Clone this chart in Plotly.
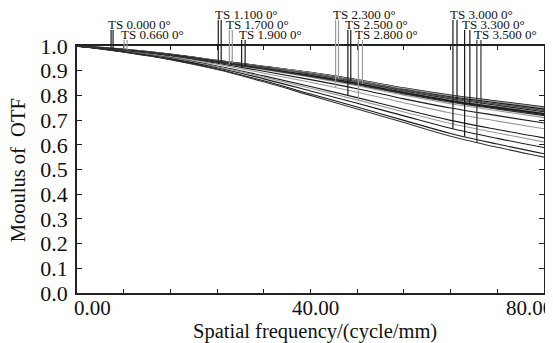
import numpy as np
import plotly.graph_objects as go

# ---------------- data ----------------
freq = [0, 8, 16, 24, 32, 40, 48, 56, 64, 72, 80]
field_labels = ["0.000", "0.660", "1.100", "1.700", "1.900", "2.300",
                "2.500", "2.800", "3.000", "3.300", "3.500"]

diffraction = [1.000, 0.985, 0.965, 0.940, 0.915, 0.890, 0.860, 0.825, 0.795, 0.770, 0.745]

t_0000 = [1.000, 0.985, 0.965, 0.940, 0.914, 0.889, 0.859, 0.824, 0.793, 0.768, 0.743]
s_0000 = [1.000, 0.985, 0.966, 0.941, 0.917, 0.893, 0.864, 0.830, 0.801, 0.777, 0.753]
t_0660 = [1.000, 0.985, 0.964, 0.939, 0.913, 0.887, 0.857, 0.821, 0.790, 0.765, 0.739]
s_0660 = [1.000, 0.985, 0.966, 0.941, 0.916, 0.892, 0.862, 0.828, 0.798, 0.774, 0.750]
t_1100 = [1.000, 0.984, 0.963, 0.937, 0.909, 0.881, 0.849, 0.812, 0.779, 0.752, 0.726]
s_1100 = [1.000, 0.985, 0.965, 0.939, 0.914, 0.888, 0.858, 0.822, 0.792, 0.766, 0.741]
t_1700 = [1.000, 0.983, 0.961, 0.934, 0.904, 0.874, 0.839, 0.801, 0.766, 0.738, 0.710]
s_1700 = [1.000, 0.985, 0.964, 0.939, 0.913, 0.887, 0.857, 0.821, 0.790, 0.765, 0.739]
t_1900 = [1.000, 0.982, 0.959, 0.930, 0.898, 0.864, 0.827, 0.786, 0.749, 0.718, 0.688]
s_1900 = [1.000, 0.985, 0.964, 0.939, 0.913, 0.886, 0.855, 0.820, 0.789, 0.763, 0.737]
t_2300 = [1.000, 0.981, 0.957, 0.926, 0.890, 0.853, 0.813, 0.770, 0.729, 0.696, 0.665]
s_2300 = [1.000, 0.985, 0.964, 0.938, 0.912, 0.886, 0.854, 0.818, 0.787, 0.761, 0.735]
t_2500 = [1.000, 0.979, 0.953, 0.919, 0.879, 0.836, 0.791, 0.744, 0.699, 0.662, 0.628]
s_2500 = [1.000, 0.984, 0.964, 0.938, 0.911, 0.885, 0.853, 0.817, 0.785, 0.759, 0.733]
t_2800 = [1.000, 0.978, 0.951, 0.916, 0.874, 0.829, 0.782, 0.733, 0.686, 0.648, 0.612]
s_2800 = [1.000, 0.984, 0.963, 0.937, 0.910, 0.883, 0.851, 0.814, 0.782, 0.756, 0.729]
t_3000 = [1.000, 0.977, 0.949, 0.912, 0.867, 0.818, 0.768, 0.717, 0.667, 0.626, 0.589]
s_3000 = [1.000, 0.984, 0.963, 0.937, 0.909, 0.881, 0.849, 0.812, 0.779, 0.752, 0.726]
t_3300 = [1.000, 0.976, 0.946, 0.907, 0.859, 0.806, 0.753, 0.699, 0.646, 0.603, 0.564]
s_3300 = [1.000, 0.984, 0.963, 0.936, 0.908, 0.879, 0.846, 0.809, 0.776, 0.748, 0.722]
t_3500 = [1.000, 0.975, 0.945, 0.905, 0.855, 0.800, 0.745, 0.690, 0.635, 0.590, 0.550]
s_3500 = [1.000, 0.984, 0.962, 0.935, 0.907, 0.877, 0.844, 0.806, 0.773, 0.745, 0.718]

curves_t = [t_0000, t_0660, t_1100, t_1700, t_1900, t_2300, t_2500, t_2800, t_3000, t_3300, t_3500]
curves_s = [s_0000, s_0660, s_1100, s_1700, s_1900, s_2300, s_2500, s_2800, s_3000, s_3300, s_3500]

# ---------------- layout / style constants ----------------
# the page body has an 8px margin, so the figure is drawn 8px in from the window corner
BODY = 8
WIN_W, WIN_H = 553, 343
W, H = WIN_W - BODY, WIN_H - BODY
PLOT_L, PLOT_R, PLOT_T, PLOT_B = 77, 546, 46, 293      # window pixels
ML, MR = PLOT_L - BODY, BODY + W - PLOT_R
MT, MB = PLOT_T - BODY, BODY + H - PLOT_B
XMIN, XMAX, YMIN, YMAX = 0, 80, 0.0, 1.0
FONT = "Liberation Serif"
DARK, GRAY = "#1a1a1a", "#9a9a9a"
field_colors = [DARK, GRAY, DARK, GRAY, DARK, GRAY, DARK, GRAY, DARK, DARK, "#333333"]
# legend marker positions (frequency where the legend lines drop down)
marker_x_t = [5.84, 8.07, 24.2, 26.1, 28.2, 44.3, 46.4, 48.2, 64.4, 66.4, 68.5]
marker_x_s = [6.18, 8.58, 24.7, 26.6, 28.8, 44.8, 46.9, 48.9, 65.1, 67.3, 69.2]
marker_row = [2, 3, 1, 2, 3, 1, 2, 3, 1, 2, 3]
row_text_py = {1: 14.5, 2: 24.5, 3: 34.5}
row_line_top_py = {1: 20, 2: 30, 3: 40}

plot_h = PLOT_B - PLOT_T
plot_w = PLOT_R - PLOT_L


def py_to_paper(py):
    return (PLOT_B - py) / plot_h


def px_to_paper(px):
    return (px - PLOT_L) / plot_w


def val_to_paper(v):
    return (v - YMIN) / (YMAX - YMIN)


def x_to_paper(x):
    return (x - XMIN) / (XMAX - XMIN)


fig = go.Figure()

fig.add_trace(go.Scatter(x=freq, y=diffraction, mode="lines",
                         line=dict(color="#000000", width=2.2, shape="spline"),
                         showlegend=False, hoverinfo="skip"))
for i, lab in enumerate(field_labels):
    for curve, w in ((curves_s[i], 1.3), (curves_t[i], 1.1)):
        fig.add_trace(go.Scatter(x=freq, y=curve, mode="lines",
                                 line=dict(color=field_colors[i], width=w, shape="spline"),
                                 showlegend=False, hoverinfo="skip"))

shapes = []
annotations = []
for i, lab in enumerate(field_labels):
    row = marker_row[i]
    top = py_to_paper(row_line_top_py[row])
    for mx, curve in ((marker_x_t[i], curves_t[i]), (marker_x_s[i], curves_s[i])):
        yv = float(np.interp(mx, freq, curve))
        xp = x_to_paper(mx)
        shapes.append(dict(type="line", xref="paper", yref="paper",
                           x0=xp, x1=xp, y0=val_to_paper(yv), y1=top,
                           line=dict(color=field_colors[i], width=1.2)))
    annotations.append(dict(xref="paper", yref="paper", x=x_to_paper(marker_x_t[i]),
                            y=py_to_paper(row_text_py[row]), xanchor="left", yanchor="middle",
                            xshift=-4, showarrow=False, text=f"TS {lab} 0°", borderpad=0,
                            font=dict(family=FONT, size=13, color="#111")))

# x tick labels (Zemax-style placement)
xtick_vals = [0, 40, 80]
xtick_text = ["0.00", "40.00", "80.00"]
xtick_shift = [15, 5, -15]
for v, t, s in zip(xtick_vals, xtick_text, xtick_shift):
    annotations.append(dict(xref="x", yref="paper", x=v, y=py_to_paper(307.5),
                            xanchor="center", yanchor="middle", xshift=s, showarrow=False,
                            text=t, font=dict(family=FONT, size=21, color="#111")))

annotations.append(dict(xref="paper", yref="paper", x=px_to_paper(316), y=py_to_paper(331),
                        xanchor="center", yanchor="middle", showarrow=False,
                        text="Spatial frequency/(cycle/mm)",
                        font=dict(family=FONT, size=20.5, color="#111")))
annotations.append(dict(xref="paper", yref="paper", x=px_to_paper(18),
                        y=py_to_paper(170), xanchor="center", yanchor="middle", showarrow=False,
                        textangle=-90, text="Mooulus of  OTF",
                        font=dict(family=FONT, size=20.5, color="#111")))

fig.update_layout(
    width=W, height=H, margin=dict(l=ML, r=MR, t=MT, b=MB, pad=0),
    paper_bgcolor="white", plot_bgcolor="white",
    shapes=shapes, annotations=annotations, showlegend=False,
    xaxis=dict(range=[XMIN, XMAX], showgrid=False, zeroline=False,
               showline=True, linecolor="#222", linewidth=1.6, mirror="ticks",
               ticks="inside", ticklen=4, tickwidth=1.3, tickcolor="#222",
               tick0=0, dtick=8, showticklabels=False),
    yaxis=dict(range=[YMIN, YMAX], showgrid=False, zeroline=False,
               showline=True, linecolor="#222", linewidth=1.6, mirror="ticks",
               ticks="inside", ticklen=5, tickwidth=1.3, tickcolor="#222",
               tick0=0, dtick=0.1, tickformat=".1f", ticklabelstandoff=3,
               tickfont=dict(family=FONT, size=22, color="#111")),
)

fig.write_html("out.html")
